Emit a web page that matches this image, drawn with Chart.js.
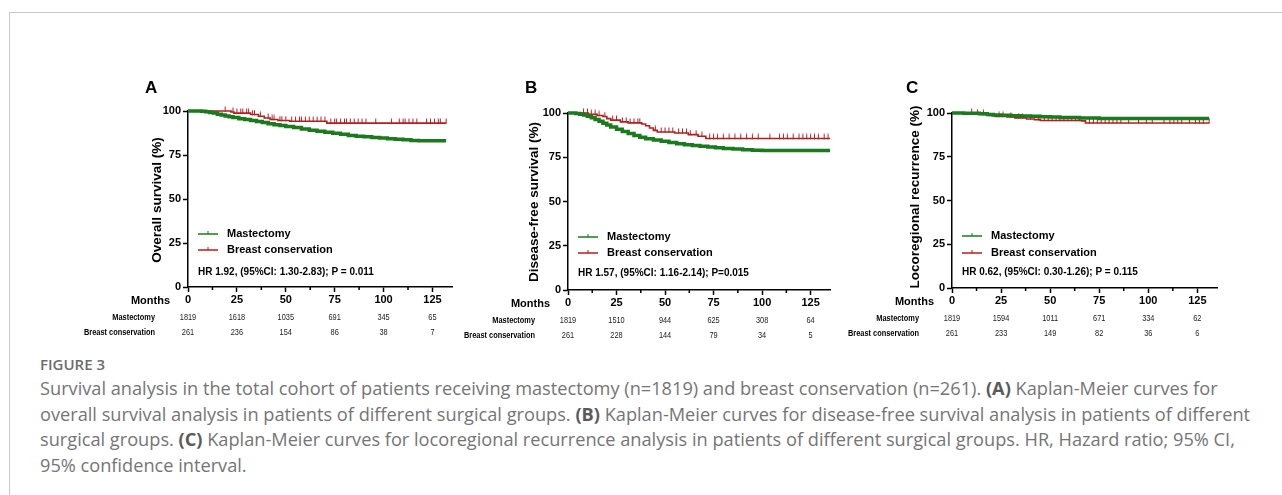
<!DOCTYPE html>
<html>
<head>
<meta charset="utf-8">
<script src="https://cdn.jsdelivr.net/npm/chart.js@4.4.0/dist/chart.umd.min.js"></script>
<style>
  html, body { margin: 0; padding: 0; background: #fff; }
  body { width: 1282px; height: 495px; position: relative; overflow: hidden; }
  #frame { position: absolute; left: 9px; top: 12px; right: -2px; bottom: -2px;
           border-top: 1px solid #c8c8c8; border-left: 1px solid #c8c8c8; }
  canvas { position: absolute; }
  .cap { position: absolute; left: 40px; white-space: nowrap; font-family: "Open Sans", sans-serif;
         color: #757575; line-height: 26px; }
  .cap b { color: #5a5a5a; font-weight: 700; }
  #figno { font-size: 15px; font-weight: 600; color: #6c6c6c; }
</style>
</head>
<body>
<div id="frame"></div>
<canvas id="panelA"></canvas>
<canvas id="panelB"></canvas>
<canvas id="panelC"></canvas>
<div class="cap" id="figno" style="top:351px">FIGURE 3</div>
<div class="cap line" style="top:375px">Survival analysis in the total cohort of patients receiving mastectomy (n=1819) and breast conservation (n=261). <b>(A)</b> Kaplan-Meier curves for</div>
<div class="cap line" style="top:401px">overall survival analysis in patients of different surgical groups. <b>(B)</b> Kaplan-Meier curves for disease-free survival analysis in patients of different</div>
<div class="cap line" style="top:426px">surgical groups. <b>(C)</b> Kaplan-Meier curves for locoregional recurrence analysis in patients of different surgical groups. HR, Hazard ratio; 95% CI,</div>
<div class="cap line" style="top:452px">95% confidence interval.</div>
<script>
// groups and axis ticks
const groups = ['Mastectomy', 'Breast conservation'];
const tickMonths = [0, 25, 50, 75, 100, 125];
const minorMonths = [12.5, 37.5, 62.5, 87.5, 112.5];
const tickPercent = [0, 25, 50, 75, 100];

// A - overall survival
const osMastT = [0, 7, 9, 11, 13, 15, 17, 19, 21, 23, 26, 29, 32, 35, 38, 41, 44, 47, 50, 54, 58, 62, 66, 70, 74, 78, 82, 86, 90, 94, 98, 102, 106, 110, 114, 118, 132];
const osMastS = [100, 99.8, 99.6, 99.2, 98.8, 98.2, 97.7, 97.2, 96.7, 96.3, 95.6, 95.2, 94.6, 94.0, 93.4, 92.8, 92.2, 91.7, 91.2, 90.6, 89.8, 89.1, 88.5, 87.9, 87.4, 86.8, 86.1, 85.6, 85.3, 85.0, 84.7, 84.3, 83.9, 83.6, 83.3, 83.1, 83.1];
const osBcsT = [0, 22, 23.5, 32, 36, 39, 42, 46, 52, 71, 132];
const osBcsS = [100, 99.4, 98.8, 98.0, 97.0, 96.0, 95.2, 94.6, 94.2, 93.1, 93.1];
const osBcsCensor = [19, 23, 25, 27, 28, 30, 31, 33, 34, 37, 41, 43, 44, 47, 48, 50, 53, 55, 57, 58, 60, 62, 64, 66, 68, 70, 73, 75, 76, 78, 80, 81, 83, 85, 87, 89, 91, 96, 104, 108, 110, 111, 113, 115, 117, 122, 124, 126, 128, 129, 132];
const osRiskMast = [1819, 1618, 1035, 691, 345, 65];
const osRiskBcs = [261, 236, 154, 86, 38, 7];

// B - disease-free survival
const dfsMastT = [0, 4, 6, 8, 10, 12, 14, 16, 18, 20, 22, 25, 28, 31, 34, 37, 40, 44, 48, 52, 56, 60, 64, 68, 72, 76, 80, 85, 90, 95, 100, 135];
const dfsMastS = [100, 99.7, 99.3, 98.8, 98.1, 97.3, 96.3, 95.3, 94.2, 93.2, 92.1, 90.8, 89.6, 88.4, 87.3, 86.3, 85.5, 84.8, 84.0, 83.3, 82.6, 82.1, 81.7, 81.2, 80.8, 80.4, 80.0, 79.7, 79.3, 79.0, 78.8, 78.8];
const dfsBcsT = [0, 10.5, 15, 18, 20, 22, 27, 31, 38, 40, 42, 44, 46, 55, 62, 67, 71, 135];
const dfsBcsS = [100, 99.2, 98.6, 98.0, 96.8, 96.0, 95.0, 94.4, 93.8, 92.8, 91.5, 90.2, 89.3, 88.7, 87.8, 86.9, 85.6, 85.6];
const dfsBcsCensor = [8, 10, 12, 14, 16, 19, 23, 25, 28, 30, 32, 34, 36, 37, 45, 48, 50, 52, 54, 57, 59, 61, 63, 66, 69, 73, 75, 77, 80, 83, 86, 89, 92, 95, 98, 104, 109, 111, 113, 116, 119, 121, 123, 125, 127, 129, 132, 134];
const dfsRiskMast = [1819, 1510, 944, 625, 308, 64];
const dfsRiskBcs = [261, 228, 144, 79, 34, 5];

// C - locoregional recurrence
const lrrMastT = [0, 6, 10, 14, 18, 21, 25, 30, 35, 40, 45, 50, 55, 60, 65, 70, 75, 85, 131];
const lrrMastS = [100, 99.9, 99.8, 99.6, 99.2, 98.9, 98.7, 98.5, 98.3, 98.1, 97.9, 97.7, 97.5, 97.4, 97.2, 97.1, 96.9, 96.8, 96.8];
const lrrBcsT = [0, 12, 15, 19, 22, 28, 32, 38, 42, 45, 66, 68, 131];
const lrrBcsS = [100, 99.6, 99.2, 98.6, 98.1, 97.7, 97.2, 96.6, 96.2, 95.7, 95.5, 94.3, 94.3];
const lrrBcsCensor = [10, 13, 16, 24, 26, 30, 34, 36, 40, 44, 47, 49, 51, 53, 55, 57, 59, 61, 63, 65, 70, 72, 74, 76, 78, 80, 82, 84, 86, 90, 95, 99, 102, 108, 111, 113, 115, 117, 121, 124, 126, 128, 131];
const lrrRiskMast = [1819, 1594, 1011, 671, 334, 62];
const lrrRiskBcs = [261, 233, 149, 82, 36, 6];

const GREEN = '#1b7a1d';
const RED = '#b01f1f';
const FONT = '"Liberation Sans", Arial, sans-serif';
const Y_W = 30;

Chart.defaults.font.family = FONT;

// censor tick: a short upward stroke sitting on the curve
const censorMark = document.createElement('canvas');
censorMark.width = 3;
censorMark.height = 10;
(function () {
    const c = censorMark.getContext('2d');
    c.strokeStyle = RED;
    c.lineWidth = 1;
    c.beginPath();
    c.moveTo(1.5, 0.5);
    c.lineTo(1.5, 5.5);
    c.stroke();
})();

function toXY(t, s) {
    return t.map((v, i) => ({ x: v, y: s[i] }));
}

// value of a step curve at month m
function valueAt(t, s, m) {
    let v = s[0];
    for (let i = 0; i < t.length; i++) if (t[i] <= m) v = s[i];
    return v;
}

function narrowText(ctx, str, x, y, weight, align) {
    ctx.save();
    ctx.translate(x, y);
    ctx.scale(0.82, 1);
    ctx.font = weight + ' 9px ' + FONT;
    ctx.textAlign = align;
    ctx.textBaseline = 'middle';
    ctx.fillText(str, 0, 0);
    ctx.restore();
}

function seg(ctx, x1, y1, x2, y2) {
    ctx.beginPath();
    ctx.moveTo(x1, y1);
    ctx.lineTo(x2, y2);
    ctx.stroke();
}

// letters, titles, legend, HR text and number-at-risk table
const kmDecor = {
    id: 'kmDecor',
    afterDraw(chart, args, o) {
        const { ctx, chartArea: a } = chart;
        const xs = chart.scales.x;
        ctx.save();
        ctx.strokeStyle = '#000';
        ctx.fillStyle = '#000';
        ctx.lineWidth = 1.5;
        minorMonths.forEach(m => {
            const px = xs.getPixelForValue(m);
            seg(ctx, px, a.bottom, px, a.bottom + 3);
        });

        ctx.textBaseline = 'middle';
        ctx.textAlign = 'left';
        ctx.font = 'bold 17px ' + FONT;
        ctx.fillText(o.letter, a.left + o.letterDx, a.top + o.letterDy);

        ctx.save();
        ctx.translate(o.titleX - o.bx, o.titleY - o.by);
        ctx.rotate(-Math.PI / 2);
        ctx.textAlign = 'center';
        ctx.font = 'bold 13.5px ' + FONT;
        ctx.fillText(o.title, 0, 0);
        ctx.restore();

        const colors = [GREEN, RED];
        ctx.font = 'bold 11px ' + FONT;
        groups.forEach((g, i) => {
            const ly = a.bottom + o.legendDy[i];
            const lx = a.left + 10;
            ctx.strokeStyle = colors[i];
            ctx.lineWidth = 1.5;
            seg(ctx, lx, ly, lx + 20, ly);
            ctx.lineWidth = 1;
            seg(ctx, lx + 10, ly - 3, lx + 10, ly);
            ctx.fillStyle = '#000';
            ctx.fillText(g, a.left + 39, ly);
        });

        ctx.font = 'bold 10px ' + FONT;
        ctx.fillText(o.hr, a.left + 10, a.bottom + o.hrDy);

        ctx.textAlign = 'right';
        ctx.font = 'bold 11px ' + FONT;
        ctx.fillText('Months', a.left - 18, a.bottom + 13.5);

        o.risk.forEach((row, i) => {
            const ry = a.bottom + 31 + i * 15;
            ctx.fillStyle = '#000';
            narrowText(ctx, groups[i], a.left - 33, ry, 'bold', 'right');
            ctx.fillStyle = '#222';
            row.forEach((n, j) => narrowText(ctx, String(n), xs.getPixelForValue(tickMonths[j]), ry, 'normal', 'center'));
        });
        ctx.restore();
    }
};

function makePanel(id, box, plot, info) {
    const cv = document.getElementById(id);
    cv.width = box.w;
    cv.height = box.h;
    cv.style.left = box.x + 'px';
    cv.style.top = box.y + 'px';
    cv.style.width = box.w + 'px';
    cv.style.height = box.h + 'px';

    const axisBorder = { display: true, color: '#000', width: 1.5 };
    const axisGrid = { drawOnChartArea: false, drawTicks: true, tickLength: 5, tickColor: '#000', tickWidth: 1.5 };
    const tickFont = { family: FONT, weight: 'bold', size: 11 };

    return new Chart(cv.getContext('2d'), {
        type: 'line',
        data: {
            datasets: [
                {
                    label: groups[0],
                    data: toXY(info.mastT, info.mastS),
                    borderColor: GREEN,
                    borderWidth: 3.5,
                    stepped: true,
                    pointRadius: 0,
                    fill: false,
                    clip: false
                },
                {
                    label: groups[1],
                    data: toXY(info.bcsT, info.bcsS),
                    borderColor: RED,
                    borderWidth: 1.6,
                    stepped: true,
                    pointRadius: 0,
                    fill: false,
                    clip: false
                },
                {
                    label: 'censored',
                    data: info.bcsCensor.map(m => ({ x: m, y: valueAt(info.bcsT, info.bcsS, m) })),
                    showLine: false,
                    pointStyle: censorMark,
                    pointRadius: 3,
                    borderColor: RED,
                    clip: false
                }
            ]
        },
        options: {
            responsive: false,
            animation: false,
            devicePixelRatio: 1,
            events: [],
            layout: {
                padding: {
                    left: plot.left - box.x - Y_W,
                    top: plot.top - box.y,
                    right: box.x + box.w - plot.right,
                    bottom: 0
                }
            },
            plugins: {
                legend: { display: false },
                tooltip: { enabled: false },
                kmDecor: Object.assign({ bx: box.x, by: box.y }, info.decor)
            },
            scales: {
                x: {
                    type: 'linear',
                    min: 0,
                    max: 135,
                    afterBuildTicks: s => { s.ticks = tickMonths.map(v => ({ value: v })); },
                    afterFit: s => { s.height = box.y + box.h - plot.bottom; },
                    border: axisBorder,
                    grid: axisGrid,
                    ticks: { color: '#000', font: tickFont, padding: 1, maxRotation: 0, autoSkip: false }
                },
                y: {
                    type: 'linear',
                    min: 0,
                    max: 100,
                    afterBuildTicks: s => { s.ticks = tickPercent.map(v => ({ value: v })); },
                    afterFit: s => { s.width = Y_W; },
                    border: axisBorder,
                    grid: axisGrid,
                    ticks: { color: '#000', font: tickFont, padding: 2 }
                }
            }
        },
        plugins: [kmDecor]
    });
}

makePanel('panelA', { x: 60, y: 60, w: 410, h: 290 }, { left: 188, right: 452, top: 111, bottom: 287 }, {
    mastT: osMastT, mastS: osMastS, bcsT: osBcsT, bcsS: osBcsS, bcsCensor: osBcsCensor,
    decor: {
        letter: 'A', letterDx: -43, letterDy: -23,
        title: 'Overall survival (%)', titleX: 157, titleY: 200,
        legendDy: [-53, -37], hrDy: -15,
        hr: 'HR 1.92, (95%CI: 1.30-2.83); P = 0.011',
        risk: [osRiskMast, osRiskBcs]
    }
});

makePanel('panelB', { x: 440, y: 60, w: 410, h: 290 }, { left: 568, right: 830, top: 113, bottom: 290 }, {
    mastT: dfsMastT, mastS: dfsMastS, bcsT: dfsBcsT, bcsS: dfsBcsS, bcsCensor: dfsBcsCensor,
    decor: {
        letter: 'B', letterDx: -43, letterDy: -25,
        title: 'Disease-free survival (%)', titleX: 534, titleY: 202,
        legendDy: [-53, -37], hrDy: -17,
        hr: 'HR 1.57, (95%CI: 1.16-2.14); P=0.015',
        risk: [dfsRiskMast, dfsRiskBcs]
    }
});

makePanel('panelC', { x: 820, y: 60, w: 420, h: 290 }, { left: 952, right: 1217, top: 113, bottom: 288 }, {
    mastT: lrrMastT, mastS: lrrMastS, bcsT: lrrBcsT, bcsS: lrrBcsS, bcsCensor: lrrBcsCensor,
    decor: {
        letter: 'C', letterDx: -46, letterDy: -25,
        title: 'Locoregional recurrence (%)', titleX: 915, titleY: 197,
        legendDy: [-52, -35], hrDy: -16,
        hr: 'HR 0.62, (95%CI: 0.30-1.26); P = 0.115',
        risk: [lrrRiskMast, lrrRiskBcs]
    }
});

// fit caption size so the first line spans the same width as the figure caption
const lines = document.querySelectorAll('.cap.line');
lines.forEach(l => { l.style.fontSize = '16px'; });
const w16 = lines[0].getBoundingClientRect().width;
const fs = 16 * 1178 / w16;
lines.forEach(l => { l.style.fontSize = fs.toFixed(2) + 'px'; });
</script>
</body>
</html>
